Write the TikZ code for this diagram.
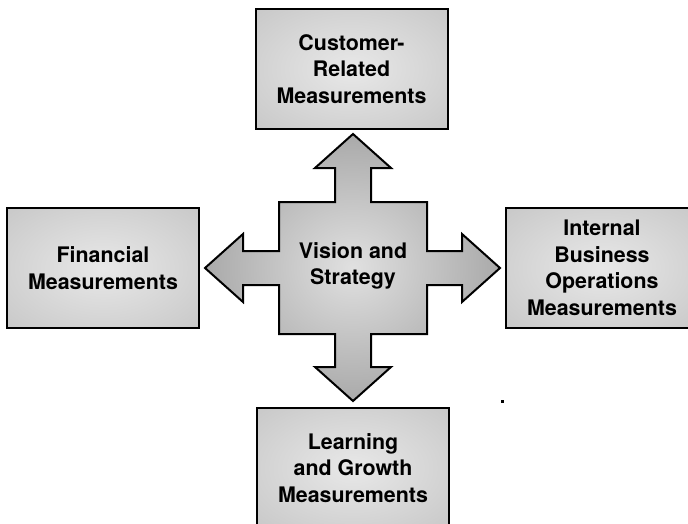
\documentclass[tikz,border=0pt]{standalone}
\usepackage{fontspec}
\setmainfont{TeX Gyre Heros}

\pgfdeclareradialshading{boxshade}{\pgfpoint{0bp}{0bp}}{color(0bp)=(black!9); color(40bp)=(black!23); color(72bp)=(black!38)}
\pgfdeclareradialshading{crossshade}{\pgfpoint{0bp}{0bp}}{color(0bp)=(black!12); color(50bp)=(black!55); color(72bp)=(black!60)}

\tikzset{
  mbox/.style={draw, line width=2pt, shading=boxshade, minimum width=192pt, minimum height=120pt,
    align=center, font=\bfseries\fontsize{21.4}{26.5}\selectfont},
  vtext/.style={align=center, font=\bfseries\fontsize{21.4}{26.5}\selectfont}
}

\begin{document}
\begin{tikzpicture}[x=1pt, y=-1pt]
    \useasboundingbox (0,0) rectangle (688,524);
    \clip (0,0) rectangle (688,524);
    \def\ms{(103,268)/fin/{Financial\\Measurements},(351.5,69)/cus/{Customer-\\Related\\Measurements},(602,268)/ibo/{Internal\\Business\\Operations\\Measurements},(353,468)/lgm/{Learning\\and Growth\\Measurements}}
    \foreach \p/\n/\t in \ms {\node[mbox] (\n) at \p {\t};}
    %Cross
    \begin{scope}[shift={(353,268)}]
      \draw[line width=2pt, shading=crossshade]
        (-74,-66) -- (-18,-66) -- (-18,-100) -- (-38,-100) -- (0,-134) -- (38,-100) -- (18,-100) -- (18,-66)
        -- (74,-66) -- (74,-17) -- (109,-17) -- (109,-34) -- (147,0) -- (109,34) -- (109,17) -- (74,17)
        -- (74,66) -- (18,66) -- (18,99) -- (38,99) -- (0,133) -- (-38,99) -- (-18,99) -- (-18,66)
        -- (-74,66) -- (-74,17) -- (-110,17) -- (-110,34) -- (-148,0) -- (-110,-34) -- (-110,-17) -- (-74,-17) -- cycle;
    \end{scope}
    \node[vtext] (vs) at (353,266) {Vision and\\Strategy};
    \fill (500.5,399.5) rectangle (503.5,402.5);
\end{tikzpicture}
\end{document}
